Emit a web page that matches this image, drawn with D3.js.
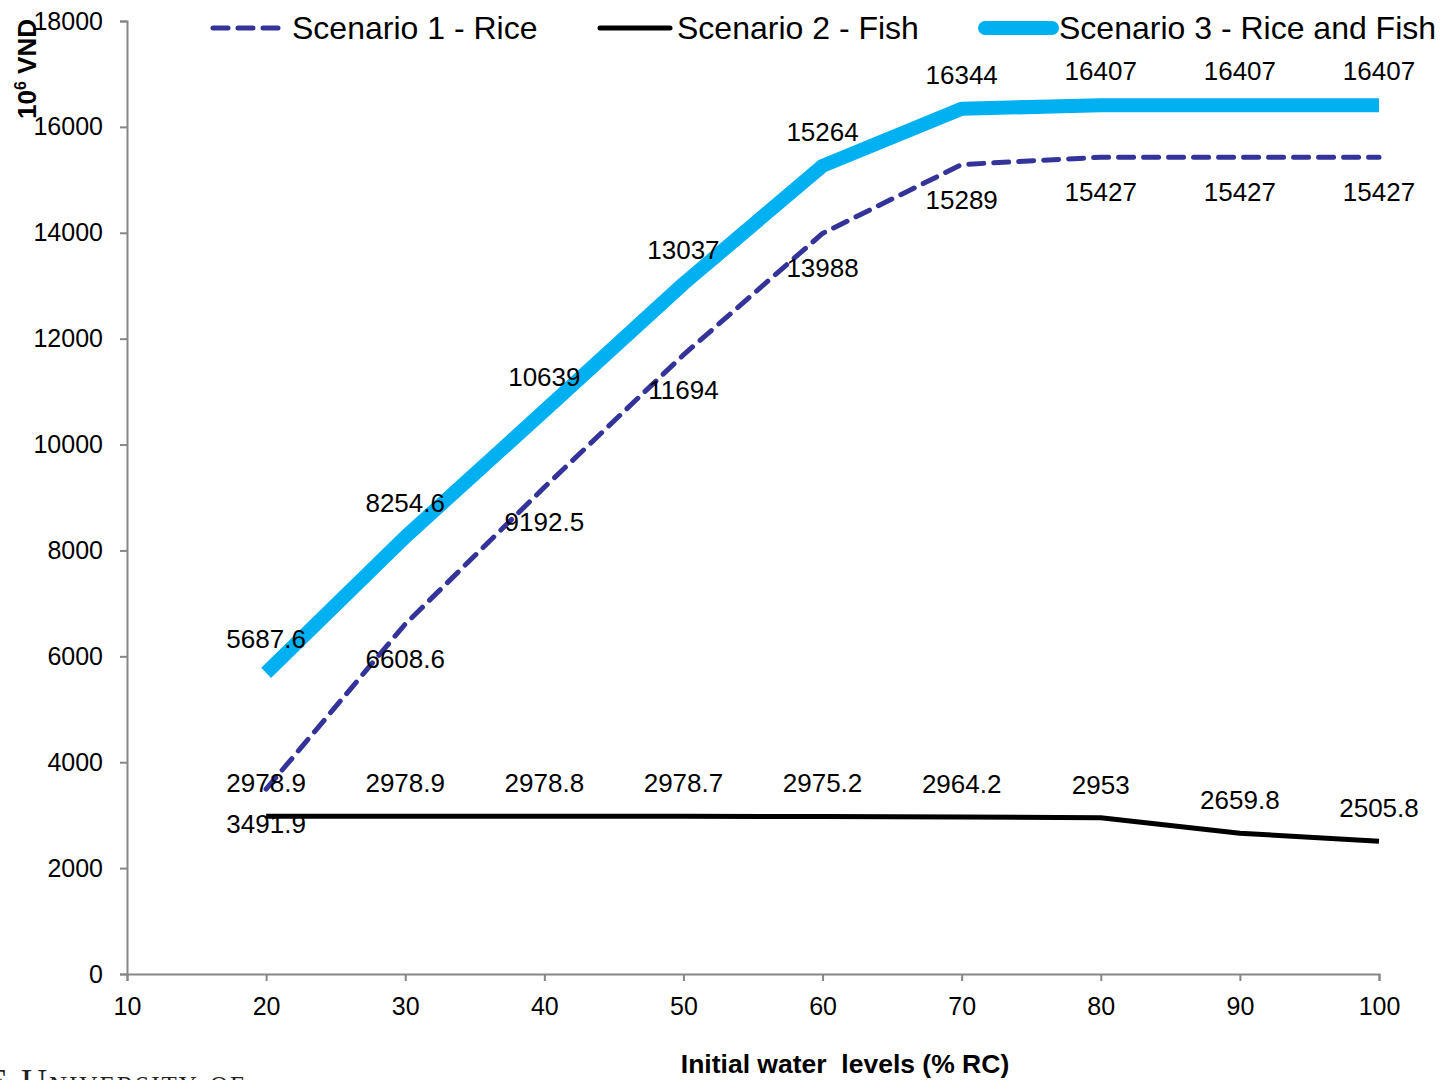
<!DOCTYPE html>
<html>
<head>
<meta charset="utf-8">
<script src="https://cdn.jsdelivr.net/npm/d3@7"></script>
<style>
  html, body { margin: 0; padding: 0; background: #fff; }
  svg { display: block; font-family: "Liberation Sans", Arial, sans-serif; }
</style>
</head>
<body>
<svg id="chart" width="1441" height="1080"></svg>
<script>
// Initial water level (% of reservoir capacity)
const waterLevels = [20, 30, 40, 50, 60, 70, 80, 90, 100];
// Net benefit, 10^6 VND
const riceValues = [3491.9, 6608.6, 9192.5, 11694, 13988, 15289, 15427, 15427, 15427];
const fishValues = [2978.9, 2978.9, 2978.8, 2978.7, 2975.2, 2964.2, 2953, 2659.8, 2505.8];
const riceFishValues = [5687.6, 8254.6, 10639, 13037, 15264, 16344, 16407, 16407, 16407];
const xTicks = [10, 20, 30, 40, 50, 60, 70, 80, 90, 100];
const yTicks = [0, 2000, 4000, 6000, 8000, 10000, 12000, 14000, 16000, 18000];
const seriesNames = ["Scenario 1 - Rice", "Scenario 2 - Fish", "Scenario 3 - Rice and Fish"];

const svg = d3.select("#chart");
const x = d3.scaleLinear().domain([10, 100]).range([127, 1379]);
const y = d3.scaleLinear().domain([0, 18000]).range([974, 21]);
const axisColor = "#868686";

// Axes
const yAxis = svg.append("g").attr("transform", `translate(${x(10)},0)`)
  .call(d3.axisLeft(y).tickValues(yTicks).tickSize(7).tickPadding(17).tickFormat(d3.format("d")));
const xAxis = svg.append("g").attr("transform", `translate(0,${y(0)})`)
  .call(d3.axisBottom(x).tickValues(xTicks).tickSize(7).tickPadding(16).tickFormat(d3.format("d")));
[xAxis, yAxis].forEach(g => {
  g.select(".domain").attr("stroke", axisColor).attr("stroke-width", 2);
  g.selectAll(".tick line").attr("stroke", axisColor).attr("stroke-width", 2);
  g.selectAll(".tick text").attr("fill", "#000").style("font-size", "25px")
    .style("font-family", "'Liberation Sans', Arial, sans-serif");
});

// Series
const series = [
  { name: seriesNames[0], values: riceValues, color: "#333399", width: 5, dash: "15 10", labelDy: 35 },
  { name: seriesNames[1], values: fishValues, color: "#000000", width: 5, dash: null, labelDy: -33 },
  { name: seriesNames[2], values: riceFishValues, color: "#00B0F0", width: 14, dash: null, labelDy: -34 }
];

const line = d3.line().x(d => x(d[0])).y(d => y(d[1]));

// Draw fish first, then rice, then rice & fish on top
[1, 0, 2].forEach(i => {
  const s = series[i];
  svg.append("path")
    .datum(waterLevels.map((w, j) => [w, s.values[j]]))
    .attr("d", line)
    .attr("fill", "none")
    .attr("stroke", s.color)
    .attr("stroke-width", s.width)
    .attr("stroke-linejoin", "round")
    .attr("stroke-linecap", s.dash ? "round" : "butt")
    .attr("stroke-dasharray", s.dash);
});

// Data labels
series.forEach(s => {
  svg.append("g").selectAll("text")
    .data(waterLevels.map((w, j) => [w, s.values[j]]))
    .join("text")
    .attr("x", d => x(d[0]))
    .attr("y", d => y(d[1]) + s.labelDy)
    .attr("text-anchor", "middle")
    .attr("dominant-baseline", "central")
    .style("font-size", "26px")
    .attr("fill", "#000")
    .text(d => d[1]);
});

// Legend
const legendItems = [
  { s: series[0], x1: 213, x2: 278, tx: 292 },
  { s: series[1], x1: 600, x2: 670, tx: 677 },
  { s: series[2], x1: 985, x2: 1052, tx: 1059 }
];
legendItems.forEach(item => {
  svg.append("line")
    .attr("x1", item.x1).attr("x2", item.x2).attr("y1", 28).attr("y2", 28)
    .attr("stroke", item.s.color)
    .attr("stroke-width", item.s.width)
    .attr("stroke-linecap", "round")
    .attr("stroke-dasharray", item.s.dash ? "15 10" : null);
  svg.append("text")
    .attr("x", item.tx).attr("y", 28)
    .attr("dominant-baseline", "central")
    .style("font-size", "32px")
    .text(item.s.name);
});

// Axis titles
const yTitle = svg.append("text")
  .attr("transform", "translate(36,119) rotate(-90)")
  .style("font-size", "26px").style("font-weight", "bold");
yTitle.append("tspan").text("10");
yTitle.append("tspan").attr("dy", -10).style("font-size", "16px").text("6");
yTitle.append("tspan").attr("dy", 10).text(" VND");

svg.append("text")
  .attr("x", 845).attr("y", 1073)
  .attr("text-anchor", "middle")
  .style("font-size", "26.5px").style("font-weight", "bold")
  .style("white-space", "pre")
  .attr("xml:space", "preserve")
  .text("Initial water  levels (% RC)");

// Footer mark, mostly below the page edge
svg.append("text")
  .attr("x", -14).attr("y", 1094)
  .style("font-family", "'Liberation Serif', serif")
  .style("font-size", "36px")
  .style("font-variant", "small-caps")
  .style("letter-spacing", "2px")
  .attr("fill", "#222")
  .text("E University of");
</script>
</body>
</html>
